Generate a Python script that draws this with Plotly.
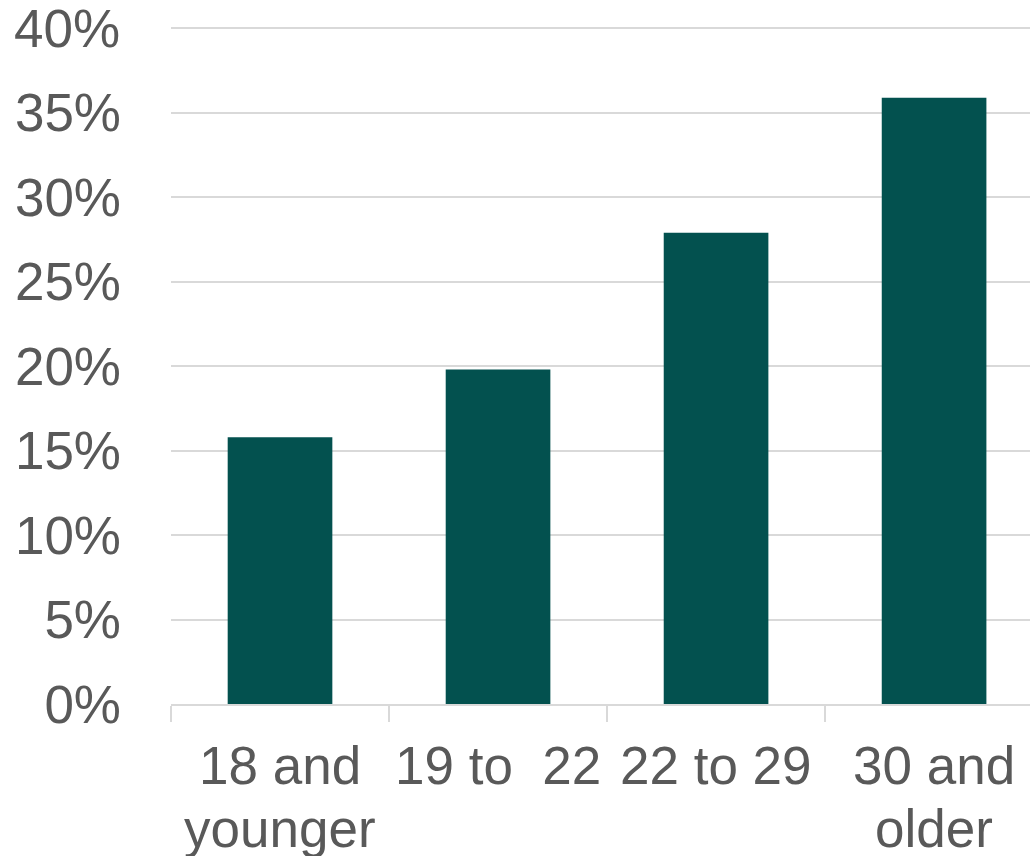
import plotly.graph_objects as go

categories = ["18 and younger", "19 to 22", "22 to 29", "30 and older"]
label_line1 = ["18 and", "19 to\u00a0\u00a022", "22 to 29", "30 and"]
label_line2 = ["younger", "", "", "older"]
shares = [0.158, 0.198, 0.279, 0.359]
y_ticks = [0, 0.05, 0.10, 0.15, 0.20, 0.25, 0.30, 0.35, 0.40]

text_color = "#595959"
grid_color = "#d9d9d9"
bar_color = "#03514F"
font_family = "Liberation Sans, Arial, sans-serif"
font_size = 53

fig = go.Figure(
    go.Bar(x=categories, y=shares, marker=dict(color=bar_color, line=dict(width=0)))
)

annotations = []
for cat, l1, l2 in zip(categories, label_line1, label_line2):
    for txt, shift in ((l1, -61), (l2, -124)):
        if txt:
            annotations.append(dict(
                x=cat, xref="x", y=0, yref="paper", yanchor="middle",
                yshift=shift, text=txt, showarrow=False,
                font=dict(size=font_size, color=text_color, family=font_family),
            ))

# the topmost y label sits at the figure edge; plotly hides overflowing tick
# labels, so it is drawn as an annotation at its data value instead
top_tick = y_ticks[-1]
tick_text = [f"{v:.0%}" for v in y_ticks[:-1]] + [""]
annotations.append(dict(
    x=0, xref="paper", y=top_tick, yref="y", xanchor="right", yanchor="middle",
    xshift=-49, text=f"{top_tick:.0%}", showarrow=False,
    font=dict(size=font_size, color=text_color, family=font_family),
))

fig.update_layout(
    width=1030,
    height=856,
    margin=dict(l=171, r=0, t=25, b=152),
    paper_bgcolor="white",
    plot_bgcolor="white",
    bargap=0.52,
    showlegend=False,
    font=dict(family=font_family, color=text_color, size=font_size),
    annotations=annotations,
)

fig.update_xaxes(
    type="category",
    range=[-0.5, 3.44],
    showline=True,
    linecolor=grid_color,
    linewidth=2,
    ticks="outside",
    tickson="boundaries",
    ticklen=16,
    tickcolor=grid_color,
    tickwidth=2,
    showgrid=False,
    showticklabels=False,
    automargin=False,
)

fig.update_yaxes(
    range=[0, 0.402],
    tickmode="array",
    tickvals=y_ticks,
    ticktext=tick_text,
    showgrid=True,
    gridcolor=grid_color,
    gridwidth=2,
    zeroline=False,
    showline=False,
    ticks="",
    tickfont=dict(size=font_size, color=text_color),
    ticklabelstandoff=49,
    automargin=False,
)

fig.write_html(
    "out.html",
    config={"displayModeBar": False},
    post_script="document.body.style.margin='0';document.body.style.overflow='hidden';",
)
